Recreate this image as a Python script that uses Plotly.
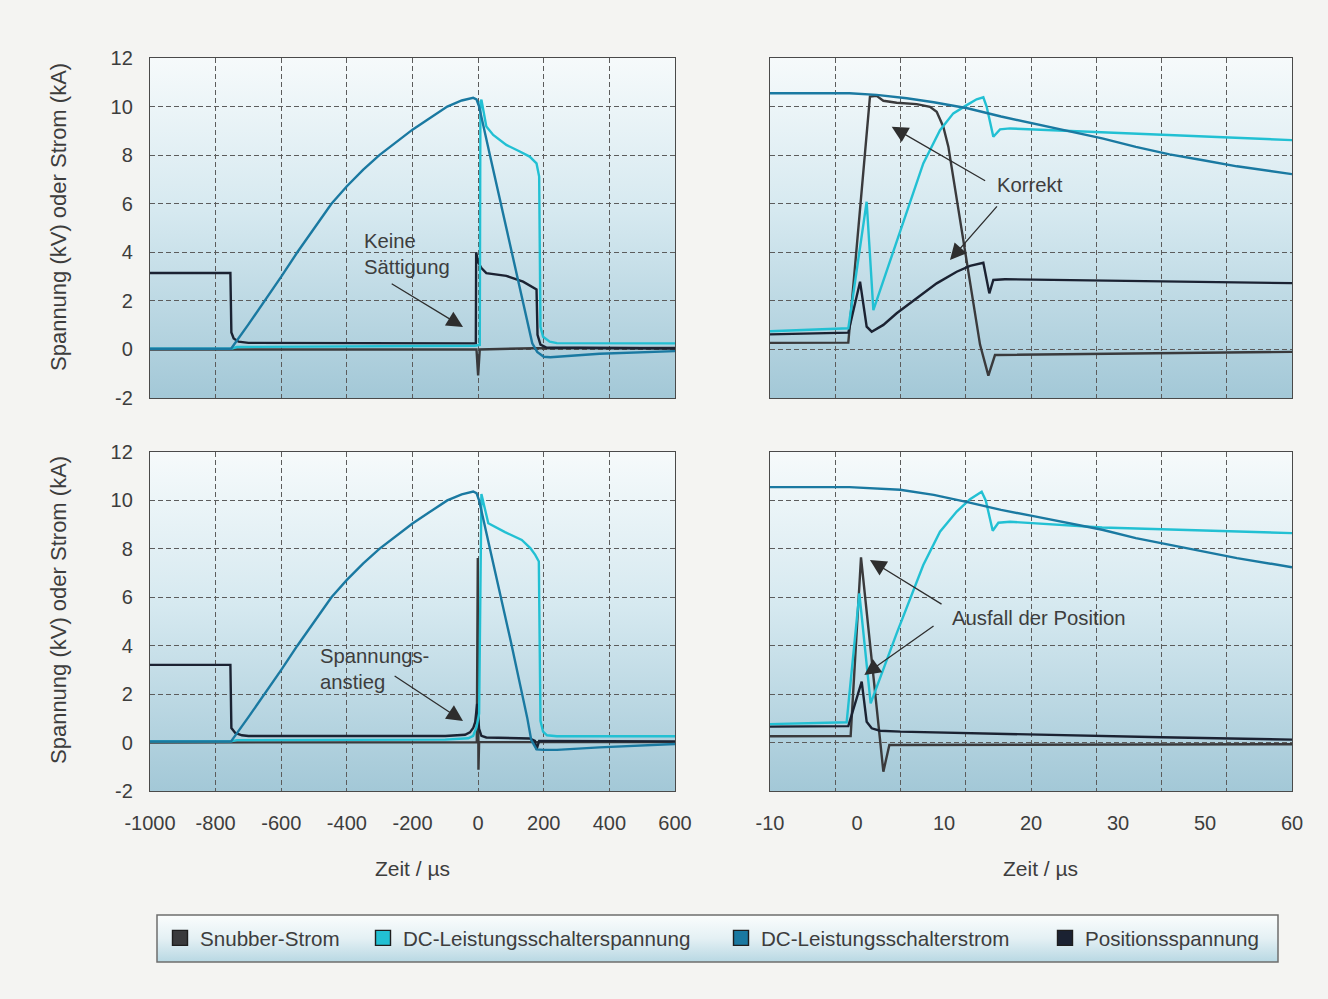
import base64
import plotly.graph_objects as go

W, H = 1328, 999

# ---------------- data ----------------
# Left panels: time in µs
tl_snub_t = [-1000, -5, 0, 5, 170, 600]
tl_snub_v = [0.0, 0.0, -1.07, 0.0, 0.05, 0.06]
tl_spann_t = [-1000, -753, -735, -200, -10, 5, 7, 10, 25, 46, 86, 127, 157, 178, 186, 190, 198, 218, 240, 600]
tl_spann_v = [0.03, 0.03, 0.1, 0.12, 0.15, 0.18, 10.2, 10.28, 9.18, 8.83, 8.42, 8.15, 7.94, 7.66, 7.12, 0.93, 0.52, 0.32, 0.26, 0.25]
tl_strom_t = [-1000, -753, -700, -650, -600, -551, -500, -447, -400, -350, -301, -250, -200, -150, -94, -50, -15, -5, 3, 36, 100, 150, 165, 180, 200, 220, 270, 370, 600]
tl_strom_v = [0.03, 0.03, 1.03, 2.0, 3.0, 4.0, 4.98, 6.0, 6.72, 7.4, 8.0, 8.55, 9.05, 9.5, 10.0, 10.25, 10.36, 10.3, 10.0, 8.0, 4.15, 1.1, 0.25, -0.1, -0.3, -0.32, -0.28, -0.18, -0.07]
tl_pos_t = [-1000, -755, -752, -745, -730, -700, -7, -6, 0, 10, 25, 86, 137, 170, 178, 181, 190, 208, 600]
tl_pos_v = [3.15, 3.15, 0.7, 0.45, 0.32, 0.27, 0.25, 4.0, 3.6, 3.35, 3.14, 3.03, 2.79, 2.55, 2.47, 0.6, 0.2, 0.08, 0.04]

bl_snub_t = [-1000, -4, -1, 1, 3, 600]
bl_snub_v = [0.0, 0.02, 7.62, -1.12, 0.02, 0.02]
bl_spann_t = [-1000, -753, -735, -100, -30, -15, -5, 3, 10, 31, 82, 133, 159, 174, 185, 190, 198, 210, 240, 600]
bl_spann_v = [0.05, 0.05, 0.1, 0.12, 0.18, 0.28, 0.63, 1.2, 10.26, 9.06, 8.69, 8.37, 8.03, 7.75, 7.48, 0.9, 0.45, 0.3, 0.26, 0.26]
bl_strom_t = [-1000, -753, -700, -650, -600, -551, -500, -447, -400, -350, -301, -250, -200, -150, -94, -50, -15, -5, 3, 36, 100, 150, 162, 178, 200, 240, 370, 600]
bl_strom_v = [0.05, 0.05, 1.05, 2.0, 3.0, 4.0, 4.98, 6.0, 6.72, 7.4, 8.0, 8.55, 9.05, 9.5, 10.0, 10.25, 10.37, 10.3, 10.0, 8.0, 4.15, 1.0, 0.1, -0.28, -0.3, -0.3, -0.2, -0.06]
bl_pos_t = [-1000, -755, -752, -740, -720, -700, -100, -40, -25, -15, -9, -3, 3, 10, 25, 157, 173, 178, 186, 600]
bl_pos_v = [3.21, 3.21, 0.6, 0.4, 0.3, 0.27, 0.27, 0.32, 0.42, 0.6, 0.84, 1.6, 0.56, 0.28, 0.21, 0.17, 0.07, -0.28, 0.07, 0.05]

# Right panels: time in µs (axis units as labelled)
tr_snub_t = [-10, -1.0, 1.49, 2.26, 3.03, 4.56, 6.86, 8.39, 9.16, 9.92, 10.5, 12.3, 14.14, 15.1, 15.86, 50]
tr_snub_v = [0.27, 0.28, 10.41, 10.44, 10.24, 10.16, 10.1, 9.99, 9.79, 9.17, 8.35, 4.3, 0.2, -1.08, -0.23, -0.1]
tr_spann_t = [-10, -1.0, 1.11, 1.88, 4.56, 7.62, 9.54, 11.07, 12.61, 13.75, 14.52, 14.9, 15.67, 16.44, 17.59, 28.18, 50]
tr_spann_v = [0.75, 0.87, 6.08, 1.62, 4.44, 7.66, 9.03, 9.72, 10.06, 10.3, 10.38, 10.0, 8.76, 9.06, 9.1, 8.94, 8.62]
tr_strom_t = [-10, -5, -0.86, 2.24, 5.72, 8.82, 12.69, 16.56, 20.43, 24.3, 28.18, 32.05, 35.92, 39.79, 43.67, 50]
tr_strom_v = [10.55, 10.56, 10.55, 10.48, 10.34, 10.18, 9.93, 9.59, 9.29, 8.99, 8.69, 8.34, 8.03, 7.79, 7.54, 7.22]
tr_pos_t = [-10, -1.0, 0.35, 1.11, 1.69, 3.03, 4.56, 6.86, 9.16, 11.46, 12.99, 14.52, 15.21, 15.67, 17.0, 50]
tr_pos_v = [0.62, 0.69, 2.79, 0.94, 0.73, 1.01, 1.49, 2.1, 2.72, 3.2, 3.44, 3.57, 2.31, 2.86, 2.89, 2.73]

br_snub_t = [-10, -0.73, 0.46, 3.03, 3.72, 20, 50]
br_snub_v = [0.26, 0.27, 7.65, -1.2, -0.1, -0.09, -0.07]
br_spann_t = [-10, -1.19, 0.27, 1.57, 4.56, 7.62, 9.54, 11.46, 12.99, 14.33, 14.8, 15.6, 16.25, 17.59, 28.18, 50]
br_spann_v = [0.76, 0.84, 6.16, 1.62, 4.51, 7.33, 8.71, 9.54, 10.05, 10.36, 10.0, 8.75, 9.08, 9.12, 8.88, 8.65]
br_strom_t = [-10, -5, -0.86, 4.95, 8.82, 12.69, 16.56, 20.43, 24.3, 28.18, 32.05, 35.92, 39.79, 43.67, 50]
br_strom_v = [10.55, 10.56, 10.55, 10.44, 10.23, 9.93, 9.61, 9.34, 9.06, 8.79, 8.44, 8.17, 7.92, 7.62, 7.24]
br_pos_t = [-10, -1.0, 0.54, 1.11, 1.69, 2.64, 5.0, 20.0, 35.0, 50]
br_pos_v = [0.66, 0.68, 2.52, 0.86, 0.59, 0.49, 0.45, 0.32, 0.22, 0.12]

series_names = ["Snubber-Strom", "DC-Leistungsschalterspannung", "DC-Leistungsschalterstrom", "Positionsspannung"]
series_colors = ["#3a3a3c", "#22c0d3", "#1a79a1", "#1b2232"]

left_ticks = [-1000, -800, -600, -400, -200, 0, 200, 400, 600]
left_ticktext = ["-1000", "-800", "-600", "-400", "-200", "0", "200", "400", "600"]
right_ticks = [-10, 0, 10, 20, 30, 40, 50]
right_ticktext = ["-10", "0", "10", "20", "30", "50", "60"]
y_ticks = [-2, 0, 2, 4, 6, 8, 10, 12]
y_ticktext = ["-2", "0", "2", "4", "6", "8", "10", "12"]

y_title = "Spannung (kV) oder Strom (kA)"
x_title = "Zeit / µs"

# ---------------- styling ----------------
FONT = "Liberation Sans, Arial, sans-serif"
TXT = "#3d3d3d"
GRID = "#5c5c5c"
LINE_W = 2.4


def px_x(a, b):
    return [a / W, b / W]


def px_y(top, bottom):
    return [1 - bottom / H, 1 - top / H]


def grad_uri(stops):
    s = "".join(f'<stop offset="{o}" stop-color="{c}"/>' for o, c in stops)
    svg = ('<svg xmlns="http://www.w3.org/2000/svg" width="200" height="200" viewBox="0 0 200 200" '
           'preserveAspectRatio="none"><defs><linearGradient id="g" x1="0" y1="0" x2="0" y2="1">'
           f'{s}</linearGradient></defs><rect x="0" y="0" width="200" height="200" fill="url(#g)"/></svg>')
    return "data:image/svg+xml;base64," + base64.b64encode(svg.encode()).decode()


plot_grad = grad_uri([(0, "#f6fafb"), (0.45, "#d6e9f0"), (1, "#a3c8d7")])
legend_grad = grad_uri([(0, "#fbfdfd"), (0.5, "#e4f0f4"), (1, "#b8d8e3")])

fig = go.Figure()

panels = [
    ("x", "y", [(tl_snub_t, tl_snub_v), (tl_spann_t, tl_spann_v), (tl_strom_t, tl_strom_v), (tl_pos_t, tl_pos_v)]),
    ("x2", "y2", [(tr_snub_t, tr_snub_v), (tr_spann_t, tr_spann_v), (tr_strom_t, tr_strom_v), (tr_pos_t, tr_pos_v)]),
    ("x3", "y3", [(bl_snub_t, bl_snub_v), (bl_spann_t, bl_spann_v), (bl_strom_t, bl_strom_v), (bl_pos_t, bl_pos_v)]),
    ("x4", "y4", [(br_snub_t, br_snub_v), (br_spann_t, br_spann_v), (br_strom_t, br_strom_v), (br_pos_t, br_pos_v)]),
]
draw_order = [0, 3, 1, 2]  # snubber, position, voltage, current (current on top)
for xa, ya, ser in panels:
    for i in draw_order:
        xs, ys = ser[i]
        fig.add_trace(go.Scatter(x=xs, y=ys, mode="lines", line=dict(color=series_colors[i], width=LINE_W),
                                 name=series_names[i], showlegend=False, xaxis=xa, yaxis=ya,
                                 hoverinfo="skip"))

# legend entries (square symbols), one legend per entry to keep the original spacing.
# They sit on the labelled overlay axis (x5) so that this axis is drawn.
legend_ids = ["legend", "legend2", "legend3", "legend4"]
legend_x_px = [160, 363, 721, 1045]
for i in range(4):
    fig.add_trace(go.Scatter(x=[None], y=[None], mode="markers", name=series_names[i],
                             marker=dict(symbol="square", size=15, color=series_colors[i],
                                         line=dict(color="#1e1e1e", width=1.4)),
                             legend=legend_ids[i], xaxis="x5", yaxis="y4", hoverinfo="skip"))

xl = px_x(150, 675)
xr = px_x(770, 1292)
yt = px_y(58, 398)
yb = px_y(452, 791)

common_axis = dict(showline=True, mirror=True, linecolor="#4a4a4a", linewidth=1.3, zeroline=False,
                   showgrid=True, gridcolor=GRID, gridwidth=1, griddash="5px,3px", ticks="",
                   automargin=False, tickfont=dict(family=FONT, size=20, color=TXT))
X_TITLE = dict(text=x_title, font=dict(family=FONT, size=21, color=TXT), standoff=28)

layout = dict(
    width=W, height=H, autosize=False, margin=dict(l=0, r=0, t=0, b=0, pad=0, autoexpand=False),
    paper_bgcolor="#f4f4f2", plot_bgcolor="rgba(0,0,0,0)",
    font=dict(family=FONT, color=TXT),
    xaxis=dict(common_axis, domain=xl, anchor="y", range=[-1000, 600], tickvals=left_ticks,
               ticktext=left_ticktext, showticklabels=False),
    yaxis=dict(common_axis, domain=yt, anchor="x", range=[-2, 12], tickvals=y_ticks, ticktext=y_ticktext,
               ticklabelstandoff=12),
    xaxis2=dict(common_axis, domain=xr, anchor="y2", range=[-10, 50], tick0=-10, dtick=7.5,
                showticklabels=False),
    yaxis2=dict(common_axis, domain=yt, anchor="x2", range=[-2, 12], tickvals=y_ticks, showticklabels=False),
    xaxis3=dict(common_axis, domain=xl, anchor="y3", range=[-1000, 600], tickvals=left_ticks,
                ticktext=left_ticktext, ticklabelstandoff=14, title=X_TITLE),
    yaxis3=dict(common_axis, domain=yb, anchor="x3", range=[-2, 12], tickvals=y_ticks, ticktext=y_ticktext,
                ticklabelstandoff=12),
    xaxis4=dict(common_axis, domain=xr, anchor="y4", range=[-10, 50], tick0=-10, dtick=7.5,
                showticklabels=False),
    xaxis5=dict(overlaying="x4", anchor="y4", side="bottom", range=[-10, 50], tickvals=right_ticks,
                ticktext=right_ticktext, showgrid=False, showline=False, zeroline=False, ticks="",
                automargin=False, ticklabelstandoff=18, tickfont=dict(family=FONT, size=20, color=TXT)),
    yaxis4=dict(common_axis, domain=yb, anchor="x4", range=[-2, 12], tickvals=y_ticks, showticklabels=False),
    showlegend=True,
)
for k, lid in enumerate(legend_ids):
    layout[lid] = dict(orientation="h", x=legend_x_px[k] / W, y=1 - 938 / H, xanchor="left", yanchor="middle",
                       bgcolor="rgba(0,0,0,0)", borderwidth=0,
                       font=dict(family=FONT, size=20.6, color=TXT), itemclick=False, itemdoubleclick=False)
fig.update_layout(**layout)

# gradient backgrounds
images = []
for xa, ya in [("x", "y"), ("x2", "y2"), ("x3", "y3"), ("x4", "y4")]:
    images.append(dict(source=plot_grad, xref=f"{xa} domain", yref=f"{ya} domain", x=0, y=1,
                       sizex=1, sizey=1, sizing="stretch", xanchor="left", yanchor="top", layer="below"))
images.append(dict(source=legend_grad, xref="paper", yref="paper", x=157 / W, y=1 - 915 / H,
                   sizex=(1278 - 157) / W, sizey=(962 - 915) / H, sizing="stretch",
                   xanchor="left", yanchor="top", layer="below"))
fig.update_layout(images=images)
fig.add_shape(type="rect", xref="paper", yref="paper", x0=157 / W, x1=1278 / W,
              y0=1 - 962 / H, y1=1 - 915 / H, line=dict(color="#6e6e6e", width=1.5),
              fillcolor="rgba(0,0,0,0)", layer="above")

# y-axis titles (placed like the original, slightly above the panel centre)
for yc in (217, 610):
    fig.add_annotation(xref="paper", yref="paper", x=58 / W, y=1 - yc / H, text=y_title, textangle=-90,
                       showarrow=False, xanchor="center", yanchor="middle",
                       font=dict(family=FONT, size=22, color=TXT))
# x-axis title of the right column (sits a little right of the panel centre in the original)
fig.add_annotation(xref="paper", yref="paper", x=1040 / W, y=1 - 868 / H, text=x_title, showarrow=False,
                   xanchor="center", yanchor="middle", font=dict(family=FONT, size=21, color=TXT))

# annotations
ANN_FONT = dict(family=FONT, size=20.3, color=TXT)
ARROW = dict(showarrow=True, arrowhead=2, arrowsize=2.5, arrowwidth=1.3, arrowcolor="#2e2e2e",
             standoff=0, startstandoff=0, text="")


def text_ann(xref, yref, x, y, text):
    fig.add_annotation(xref=xref, yref=yref, x=x, y=y, text=text, showarrow=False, xanchor="left",
                       yanchor="middle", align="left", font=ANN_FONT)


def arrow_ann(xref, yref, tip, tail):
    fig.add_annotation(xref=xref, yref=yref, axref=xref, ayref=yref, x=tip[0], y=tip[1],
                       ax=tail[0], ay=tail[1], **ARROW)


text_ann("x", "y", -354, 3.91, "Keine<br>Sättigung")
arrow_ann("x", "y", (-46, 0.92), (-268, 2.74))

text_ann("x2", "y2", 15.86, 6.77, "Korrekt")
arrow_ann("x2", "y2", (3.99, 9.17), (14.9, 6.91))
arrow_ann("x2", "y2", (10.69, 3.68), (16.24, 5.95))

text_ann("x3", "y3", -488, 3.04, "Spannungs-<br>anstieg")
arrow_ann("x3", "y3", (-46, 0.89), (-259, 2.79))

text_ann("x4", "y4", 10.69, 5.14, "Ausfall der Position")
arrow_ann("x4", "y4", (1.49, 7.54), (9.89, 5.68))
arrow_ann("x4", "y4", (0.84, 2.79), (8.97, 4.86))

fig.write_html("out.html", config={"displayModeBar": False},
               post_script="document.body.style.margin='0';document.body.style.overflow='hidden';")
